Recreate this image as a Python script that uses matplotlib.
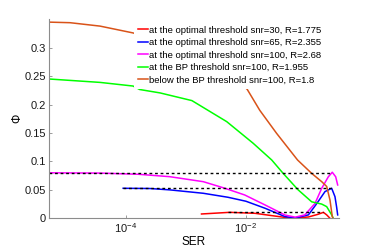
import numpy as np
import matplotlib
matplotlib.use("Agg")
import matplotlib.pyplot as plt

plt.rcParams["font.family"] = ["Liberation Sans", "DejaVu Sans"]
plt.rcParams["mathtext.fontset"] = "custom"
plt.rcParams["mathtext.rm"] = "Liberation Sans"
plt.rcParams["mathtext.it"] = "Liberation Sans:italic"

# --- data (SER given as log10 values) ---
red_lg = [-2.74, -2.27, -1.85, -1.52, -1.24, -0.96, -0.80, -0.71, -0.655, -0.60]
red_phi = [0.0076, 0.0105, 0.0088, 0.0040, 0.0000, 0.0023, 0.0070, 0.0105, 0.0060, 0.0000]

blue_lg = [-4.045, -3.60, -3.27, -2.71, -2.30, -2.00, -1.68, -1.35, -1.18, -0.96, -0.82, -0.683, -0.572, -0.517, -0.49, -0.472]
blue_phi = [0.0528, 0.0524, 0.0500, 0.0440, 0.0370, 0.0300, 0.0176, 0.0030, 0.0005, 0.0060, 0.0260, 0.0470, 0.0528, 0.0380, 0.0200, 0.0060]

mag_lg = [-5.28, -4.43, -3.80, -3.27, -2.71, -2.35, -2.02, -1.68, -1.35, -1.18, -1.02, -0.85, -0.738, -0.628, -0.562, -0.505, -0.472]
mag_phi = [0.0800, 0.0795, 0.0775, 0.0732, 0.0644, 0.0528, 0.0410, 0.0234, 0.0058, 0.0020, 0.0060, 0.0260, 0.0528, 0.0730, 0.0810, 0.0730, 0.0586]

green_lg = [-5.28, -4.43, -3.88, -3.77, -3.43, -2.90, -2.32, -1.88, -1.57, -1.38, -1.13, -0.905, -0.738, -0.655, -0.572, -0.545]
green_phi = [0.245, 0.239, 0.2326, 0.2265, 0.2205, 0.207, 0.170, 0.132, 0.1025, 0.079, 0.050, 0.029, 0.025, 0.0205, 0.006, 0.0]

orange_lg = [-5.28, -4.93, -4.43, -3.88, -2.90, -2.40, -1.98, -1.77, -1.49, -1.14, -0.905, -0.738, -0.655, -0.60, -0.562, -0.55]
orange_phi = [0.345, 0.344, 0.338, 0.326, 0.295, 0.266, 0.227, 0.190, 0.1495, 0.1025, 0.079, 0.0644, 0.056, 0.032, 0.003, 0.0]

# dashed reference levels: (start, end, level)
ref_start = [-5.28, -4.045, -2.30]
ref_end = [-0.562, -0.572, -0.712]
ref_level = [0.080, 0.0528, 0.0105]

labels = [
    "at the optimal threshold snr=30, R=1.775",
    "at the optimal threshold snr=65, R=2.355",
    "at the optimal threshold snr=100, R=2.68",
    "at the BP threshold snr=100, R=1.955",
    "below the BP threshold snr=100, R=1.8",
]
colors = ["#ff0000", "#0000ff", "#ff00ff", "#00ff00", "#d95319"]
series = [(red_lg, red_phi), (blue_lg, blue_phi), (mag_lg, mag_phi),
          (green_lg, green_phi), (orange_lg, orange_phi)]

fig = plt.figure(figsize=(3.74, 2.48), dpi=100)
ax = fig.add_axes([49 / 374, 1 - 218.3 / 248, 290 / 374, 199.3 / 248])

for (lg, phi), c, lab in zip(series, colors, labels):
    ax.plot(np.power(10.0, lg), phi, color=c, lw=1.1, label=lab)

for s, e, v in zip(ref_start, ref_end, ref_level):
    ax.plot([10.0 ** s, 10.0 ** e], [v, v], color="k", lw=1.0, ls=(0, (2, 2)))

ax.set_xscale("log")
ax.set_xlim(10 ** -5.28, 10 ** -0.45)
ax.set_ylim(0, 0.3505)
ax.set_xticks([1e-4, 1e-2])
ax.xaxis.set_minor_locator(matplotlib.ticker.NullLocator())
ax.set_yticks([0, 0.05, 0.1, 0.15, 0.2, 0.25, 0.3])
ax.set_yticklabels(["0", "0.05", "0.1", "0.15", "0.2", "0.25", "0.3"])

for side in ["top", "right"]:
    ax.spines[side].set_visible(False)
for side in ["left", "bottom"]:
    ax.spines[side].set_color("#8c8c8c")
    ax.spines[side].set_linewidth(0.8)
ax.tick_params(direction="in", length=2.5, width=0.6, color="#8c8c8c",
               labelsize=8, pad=2, labelcolor="#1a1a1a")

ax.set_xlabel("SER", fontsize=8.5, labelpad=1)
ax.set_ylabel("Φ", fontsize=8.5, labelpad=1)

leg = ax.legend(loc="upper left", bbox_to_anchor=(134 / 374, 1 - 21.5 / 248),
                bbox_transform=fig.transFigure, fontsize=6.8, frameon=True,
                facecolor="white", edgecolor="none", framealpha=1,
                borderaxespad=0, borderpad=0.45, handlelength=1.0,
                handletextpad=0.15, labelspacing=0.37)
leg.get_frame().set_linewidth(0)

fig.savefig("out.png", dpi=100)
